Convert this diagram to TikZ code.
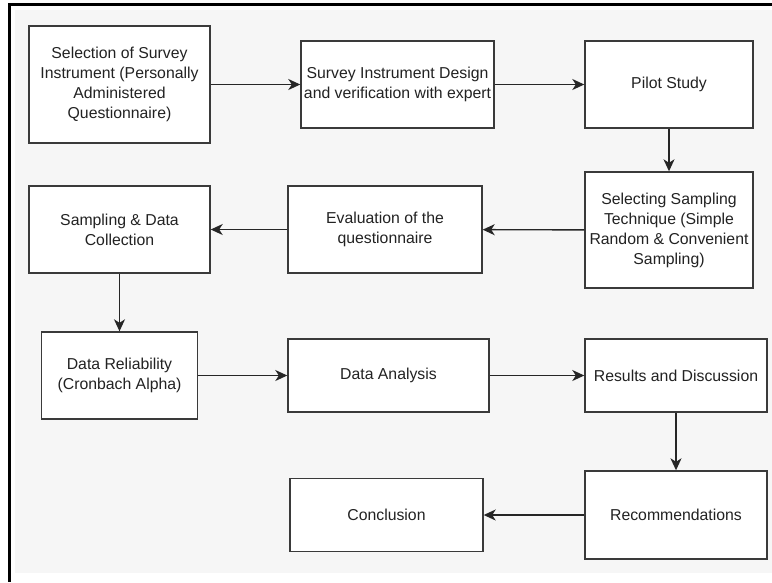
\documentclass[tikz,border=0pt]{standalone}
\usepackage{fontspec}
\setmainfont{Liberation Sans}
\usetikzlibrary{arrows.meta}
\definecolor{pagegray}{HTML}{F6F6F6}
\definecolor{boxline}{HTML}{3A3A3A}
\definecolor{boxtext}{HTML}{222222}
\begin{document}
\begin{tikzpicture}[x=1pt,y=-1pt,
  stepbox/.style={draw=boxline, line width=1.4pt, fill=white, align=center,
    inner sep=0pt, text=boxtext,
    font=\fontsize{15.8}{20}\selectfont},
  flow/.style={draw=black!85, line width=1.4pt,
    -{Stealth[length=12pt,width=11pt,inset=3.5pt]}}]
  % canvas and frame
  \useasboundingbox (0,0) rectangle (772,582);
  \fill[white] (0,0) rectangle (772,582);
  \fill[pagegray] (15,10) rectangle (772,573);
  \draw[black, line width=2.5pt] (8.5,4.5) -- (772,4.5);
  \draw[black, line width=2.5pt] (9.7,3.3) -- (9.7,582);

  % row 1
  \node[stepbox, minimum width=181pt, minimum height=117pt] (sel) at (119.5,84.5)
    {Selection of Survey\\Instrument (Personally\\Administered\\Questionnaire)};
  \node[stepbox, minimum width=193pt, minimum height=87pt] (design) at (397.5,84.5)
    {Survey Instrument Design\\and verification with expert};
  \node[stepbox, minimum width=168pt, minimum height=87pt] (pilot) at (669,84.5)
    {Pilot Study};

  % row 2
  \node[stepbox, minimum width=168pt, minimum height=116pt] (tech) at (669,230)
    {Selecting Sampling\\Technique (Simple\\Random \& Convenient\\Sampling)};
  \node[stepbox, minimum width=194pt, minimum height=87pt] (eval) at (385,229.5)
    {Evaluation of the\\questionnaire};
  \node[stepbox, minimum width=181pt, minimum height=87pt] (collect) at (119.5,229.5)
    {Sampling \& Data\\Collection};

  % row 3
  \node[stepbox, minimum width=156pt, minimum height=87pt] (rel) at (119.5,375.5)
    {Data Reliability\\(Cronbach Alpha)};
  \node[stepbox, minimum width=201pt, minimum height=73pt] (anal) at (388.5,375.5)
    {Data Analysis};
  \node[stepbox, minimum width=182pt, minimum height=73pt] (res) at (676,375.5)
    {Results and Discussion};

  % row 4
  \node[stepbox, minimum width=182pt, minimum height=88pt] (rec) at (676,515)
    {Recommendations};
  \node[stepbox, minimum width=193pt, minimum height=73pt] (conc) at (386.5,515)
    {Conclusion};

  % connectors
  \draw[flow] (sel) -- (design);
  \draw[flow] (design) -- (pilot);
  \draw[flow] (pilot) -- (tech);
  \draw[flow] (tech) -- (eval);
  \draw[flow] (eval) -- (collect);
  \draw[flow] (collect) -- (rel);
  \draw[flow] (rel) -- (anal);
  \draw[flow] (anal) -- (res);
  \draw[flow] (res) -- (rec);
  \draw[flow] (rec) -- (conc);
\end{tikzpicture}
\end{document}
